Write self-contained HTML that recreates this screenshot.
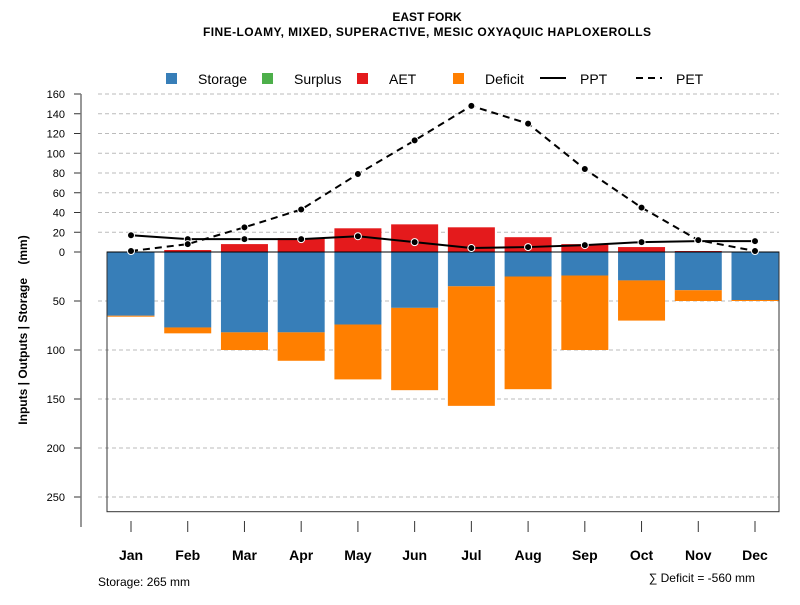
<!DOCTYPE html>
<html><head><meta charset="utf-8"><style>body{margin:0;background:#fff}svg{font-family:"Liberation Sans",sans-serif}</style></head>
<body>
<svg id="c" width="800" height="600" xmlns="http://www.w3.org/2000/svg">
<text x="427" y="21" font-size="12" font-weight="bold" text-anchor="middle">EAST FORK</text>
<text x="427" y="36" font-size="12" font-weight="bold" text-anchor="middle" textLength="448">FINE-LOAMY, MIXED, SUPERACTIVE, MESIC OXYAQUIC HAPLOXEROLLS</text>
<g>
<rect x="166" y="73" width="11" height="11" fill="#377eb8"/>
<text x="198" y="84" font-size="14">Storage</text>
<rect x="262" y="73" width="11" height="11" fill="#4daf4a"/>
<text x="294" y="84" font-size="14">Surplus</text>
<rect x="357" y="73" width="11" height="11" fill="#e41a1c"/>
<text x="389" y="84" font-size="14">AET</text>
<rect x="453" y="73" width="11" height="11" fill="#ff7f00"/>
<text x="485" y="84" font-size="14">Deficit</text>
<line x1="540" y1="78" x2="566" y2="78" stroke="#000" stroke-width="2"/>
<text x="580" y="84" font-size="14">PPT</text>
<line x1="636" y1="78" x2="662" y2="78" stroke="#000" stroke-width="2" stroke-dasharray="7,5"/>
<text x="676" y="84" font-size="14">PET</text>
</g>
<text transform="translate(27,330) rotate(-90)" font-size="12" font-weight="bold" text-anchor="middle" style="white-space:pre" xml:space="preserve">Inputs | Outputs | Storage    (mm)</text>
<text x="98" y="586" font-size="12">Storage: 265 mm</text>
<text x="755" y="582" font-size="12" text-anchor="end">∑ Deficit = -560 mm</text>
<g id="g"></g>
</svg>
<script>
const months=["Jan","Feb","Mar","Apr","May","Jun","Jul","Aug","Sep","Oct","Nov","Dec"];
const storage=[65,77,82,82,74,57,35,25,24,29,39,49];
const deficit=[1,6,18,29,56,84,122,115,76,41,11,1];
const aet=[0,2,8,14,24,28,25,15,8,5,1,0];
const ppt=[17,13,13,13,16,10,4,5,7,10,11,11];
const pet=[1,8,25,43,79,113,148,130,84,45,12,1];
const upTicks=[0,20,40,60,80,100,120,140,160];
const downTicks=[50,100,150,200,250];
const NS="http://www.w3.org/2000/svg",g=document.getElementById('g');
const x0=107,x1=779,y0=252;
const xc=i=>x0+24+i*(x1-x0-48)/11.0;
const yU=v=>y0-v*0.9875;
const yD=v=>y0+v*0.98;
function mk(t,a,p){const e=document.createElementNS(NS,t);for(const k in a)e.setAttribute(k,a[k]);(p||g).appendChild(e);return e;}
upTicks.forEach(v=>{const y=yU(v);
 if(v>0){const l=mk('line',{x1:98,x2:x1,y1:y,y2:y,stroke:'#bbb','stroke-dasharray':'4,3'});
 
 }
 mk('line',{x1:74,x2:81,y1:y,y2:y,stroke:'#333'});
 const t=mk('text',{x:65,y:y+4,'font-size':11,'text-anchor':'end'});t.textContent=v;
 
 });
downTicks.forEach(v=>{const y=yD(v);
 const l=mk('line',{x1:98,x2:x1,y1:y,y2:y,stroke:'#bbb','stroke-dasharray':'4,3'});
 
 
 mk('line',{x1:74,x2:81,y1:y,y2:y,stroke:'#333'});
 const t=mk('text',{x:65,y:y+4,'font-size':11,'text-anchor':'end'});t.textContent=v;
 
 });
mk('line',{x1:81,x2:81,y1:yU(160),y2:527,stroke:'#777','stroke-width':1.5});
mk('rect',{x:x0,y:y0,width:x1-x0,height:yD(265)-y0,fill:'none',stroke:'#333'});
const bw=47;
months.forEach((m,i)=>{const x=xc(i)-bw/2;
 const s=mk('rect',{x:x,y:y0,width:bw,height:yD(storage[i])-y0,fill:'#377eb8'});
 
 
 const d=mk('rect',{x:x,y:yD(storage[i]),width:bw,height:yD(storage[i]+deficit[i])-yD(storage[i]),fill:'#ff7f00'});
 
 
 const a=mk('rect',{x:x,y:yU(aet[i]),width:bw,height:y0-yU(aet[i]),fill:'#e41a1c'});
 
 
 mk('line',{x1:xc(i),x2:xc(i),y1:521,y2:532,stroke:'#333'});
 const t=mk('text',{x:xc(i),y:560,'font-size':14,'font-weight':'bold','text-anchor':'middle'});t.textContent=m;
 
 });
mk('line',{x1:x0,x2:x1,y1:y0,y2:y0,stroke:'#000'});
function series(arr,dash,name){
 const p=mk('polyline',{points:arr.map((v,i)=>xc(i)+','+yU(v)).join(' '),fill:'none',stroke:'#000','stroke-width':2,'stroke-dasharray':dash});
 
 
 arr.forEach((v,i)=>{const c=mk('circle',{cx:xc(i),cy:yU(v),r:3.5,fill:'#000',stroke:'#fff','stroke-width':1});
 
 });}
series(ppt,'none','ppt');
series(pet,'7,5','pet');
</script>
</body></html>
